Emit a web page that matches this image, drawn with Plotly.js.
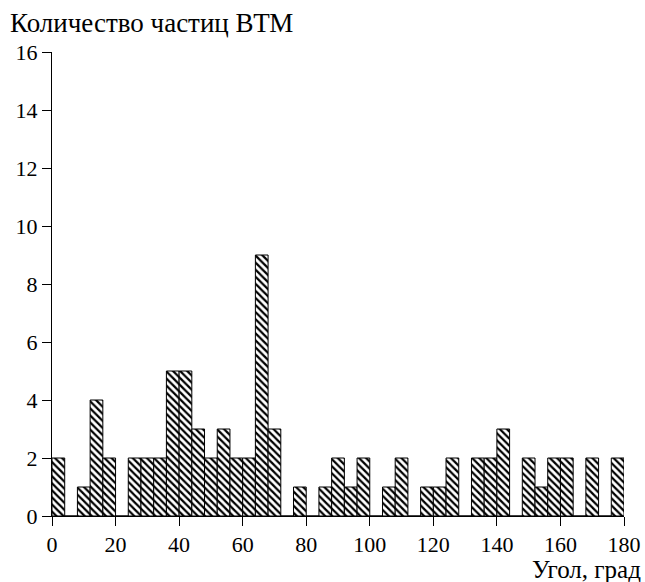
<!DOCTYPE html>
<html>
<head>
<meta charset="utf-8">
<script src="https://cdn.plot.ly/plotly-3.0.1.min.js"></script>
<style>
  html, body { margin: 0; padding: 0; background: #fff; }
  #chart { width: 645px; height: 582px; }
</style>
</head>
<body>
<div id="chart"></div>
<script>
// Histogram of particle orientation angles, 4-degree bins from 0 to 180.
const binCentres = [2, 6, 10, 14, 18, 22, 26, 30, 34, 38, 42, 46, 50, 54, 58,
                    62, 66, 70, 74, 78, 82, 86, 90, 94, 98, 102, 106, 110, 114, 118,
                    122, 126, 130, 134, 138, 142, 146, 150, 154, 158, 162, 166, 170, 174, 178];
const counts = [2, 0, 1, 4, 2, 0, 2, 2, 2, 5, 5, 3, 2, 3, 2,
                2, 9, 3, 0, 1, 0, 1, 2, 1, 2, 0, 1, 2, 0, 1,
                1, 2, 0, 2, 2, 3, 0, 2, 1, 2, 2, 0, 2, 0, 2];
const xTicks = [0, 20, 40, 60, 80, 100, 120, 140, 160, 180];
const yTicks = [0, 2, 4, 6, 8, 10, 12, 14, 16];

const serif = "Liberation Serif, Times New Roman, serif";

const trace = {
  type: "bar",
  x: binCentres,
  y: counts,
  width: 4,
  marker: {
    color: "#fff",
    line: { color: "#000", width: 1 },
    pattern: { shape: "\\", fgcolor: "#000", bgcolor: "#fff", size: 5, solidity: 0.45, fillmode: "replace" }
  },
  hoverinfo: "x+y"
};

const axisCommon = {
  showline: true,
  linecolor: "#000",
  linewidth: 1,
  ticks: "outside",
  ticklen: 9,
  tickwidth: 1,
  tickcolor: "#000",
  showgrid: false,
  zeroline: false,
  tickfont: { family: serif, size: 22, color: "#000" }
};

const layout = {
  width: 645,
  height: 582,
  margin: { l: 52, r: 21, t: 52, b: 66 },
  paper_bgcolor: "#fff",
  plot_bgcolor: "#fff",
  showlegend: false,
  bargap: 0,
  font: { family: serif, color: "#000" },
  xaxis: Object.assign({}, axisCommon, {
    range: [0, 180],
    tickvals: xTicks,
    ticktext: xTicks.map(String)
  }),
  yaxis: Object.assign({}, axisCommon, {
    range: [0, 16],
    tickvals: yTicks,
    ticktext: yTicks.map(String)
  }),
  annotations: [
    {
      text: "Количество частиц ВТМ",
      xref: "paper", yref: "paper",
      x: -52 / 572, y: 1,
      xanchor: "left", yanchor: "bottom",
      yshift: 12,
      xshift: 8,
      showarrow: false,
      font: { family: serif, size: 27, color: "#000" }
    },
    {
      text: "Угол, град",
      xref: "paper", yref: "paper",
      x: 1, y: 0,
      xanchor: "right", yanchor: "top",
      xshift: 19,
      yshift: -38,
      showarrow: false,
      font: { family: serif, size: 25, color: "#000" }
    }
  ]
};

Plotly.newPlot("chart", [trace], layout, { displayModeBar: false, staticPlot: true });
</script>
</body>
</html>
